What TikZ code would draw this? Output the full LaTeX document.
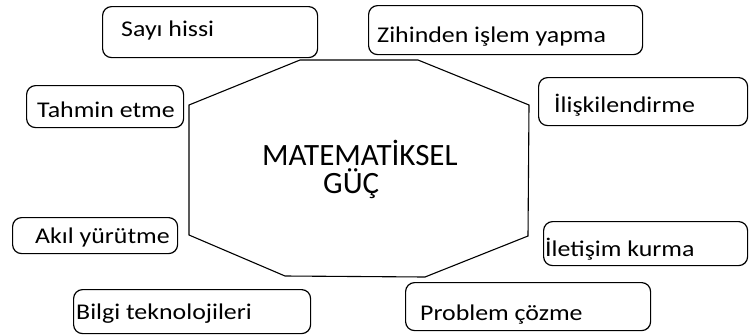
\documentclass[tikz,border=0pt]{standalone}
\usepackage{fontspec}
\setmainfont{Carlito}
\newfontfamily\labelfont[FakeStretch=1.15]{Carlito}
\begin{document}
\begin{tikzpicture}[x=1pt,y=-1pt,
  box/.style={draw=black, line width=1.2pt, rounded corners=9pt, anchor=north west, inner sep=0pt},
  lbl/.style={anchor=base west, inner sep=0pt, font=\labelfont\fontsize{22.5}{26}\selectfont},
  oct/.style={draw=black, line width=1.1pt}]
\useasboundingbox (0,0) rectangle (749,335);
% boxes
\node[box, minimum width=215pt, minimum height=51pt] (b1) at (102,6) {};
\node[box, minimum width=274pt, minimum height=49pt] (b2) at (368,5) {};
\node[box, minimum width=209pt, minimum height=48pt] (b3) at (538,77) {};
\node[box, minimum width=157pt, minimum height=42pt] (b4) at (26,85) {};
\node[box, minimum width=165pt, minimum height=36pt] (b5) at (12,217) {};
\node[box, minimum width=237pt, minimum height=44pt] (b6) at (73,289) {};
\node[box, minimum width=204pt, minimum height=44pt] (b7) at (543,221) {};
\node[box, minimum width=245pt, minimum height=48pt] (b8) at (405,282) {};
% labels
\node[lbl] (t1) at (121,36) {Sayı hissi};
\node[lbl] (t2) at (377,42) {Zihinden işlem yapma};
\node[lbl] (t3) at (554,112) {İlişkilendirme};
\node[lbl] (t4) at (37,117) {Tahmin etme};
\node[lbl] (t5) at (35,243) {Akıl yürütme};
\node[lbl] (t6) at (76,319) {Bilgi teknolojileri};
\node[lbl] (t7) at (545,256) {İletişim kurma};
\node[lbl] (t8) at (420,320) {Problem çözme};
% octagon
\coordinate (o1) at (300,60);
\coordinate (o2) at (418,60);
\coordinate (o3) at (529,105);
\coordinate (o4) at (528,236);
\coordinate (o5) at (425,277);
\coordinate (o6) at (285,276);
\coordinate (o7) at (189,235);
\coordinate (o8) at (189,105);
\draw[oct] (o1) -- (o2) -- (o3) -- (o4) -- (o5) -- (o6) -- (o7) -- (o8) -- cycle;
% center text
\node[anchor=base west, inner sep=0pt, font=\fontsize{31}{27}\selectfont] (m1) at (262,165) {MATEMATİKSEL};
\node[anchor=base west, inner sep=0pt, font=\fontsize{31}{27}\selectfont] (m2) at (323,193) {GÜÇ};
\end{tikzpicture}
\end{document}
